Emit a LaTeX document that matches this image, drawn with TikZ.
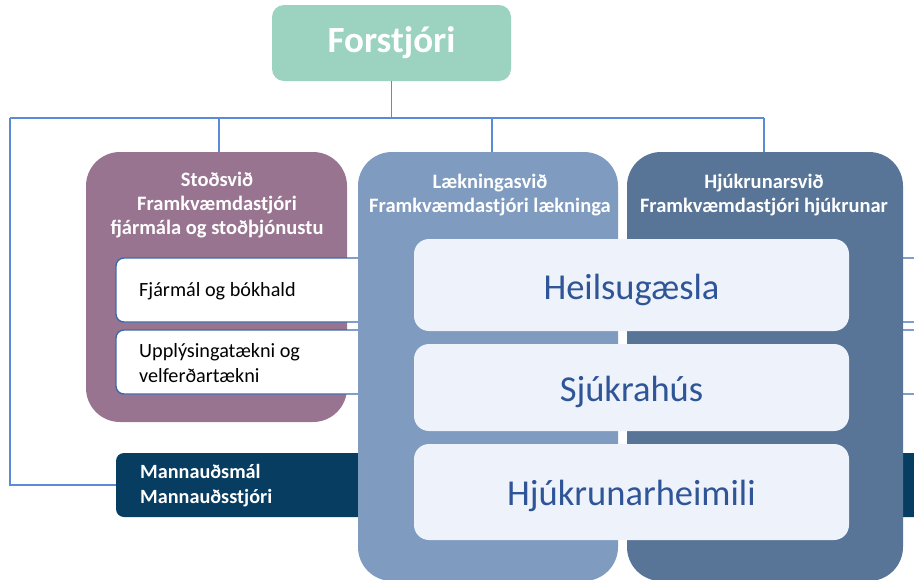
\documentclass[tikz,border=0pt]{standalone}
\usepackage{fontspec}
\setmainfont{Carlito}
\definecolor{cteal}{RGB}{155,211,192}
\definecolor{cconn}{RGB}{91,139,214}
\definecolor{cstod}{RGB}{152,116,145}
\definecolor{claek}{RGB}{127,155,191}
\definecolor{chjuk}{RGB}{88,116,151}
\definecolor{cmann}{RGB}{8,61,98}
\definecolor{clight}{RGB}{237,242,251}
\definecolor{clighttext}{RGB}{47,85,151}
\definecolor{cwbord}{RGB}{63,106,170}
\begin{document}
\begin{tikzpicture}[x=1pt,y=-1pt,
  conn/.style={draw=cconn,line width=1.4pt},
  panel/.style={inner sep=0pt,rounded corners=34pt},
  headtext/.style={text=white,align=center,inner sep=0pt,font=\fontsize{20.5}{24}\selectfont\bfseries},
  whitebox/.style={fill=white,draw=cwbord,line width=1.4pt,rounded corners=8pt,minimum width=884pt,minimum height=64pt,inner sep=0pt},
  bodytext/.style={anchor=west,align=left,inner sep=0pt,font=\fontsize{20.2}{25}\selectfont},
  lightbox/.style={fill=clight,rounded corners=15pt,minimum width=435pt,inner sep=0pt},
  lighttext/.style={inner sep=0pt,text=clighttext,font=\fontsize{36.5}{40}\selectfont}
]
\useasboundingbox (0,0) rectangle (914,579);
\clip (0,0) rectangle (914,579);

% top box
\node[fill=cteal,rounded corners=12pt,minimum width=239pt,minimum height=76pt,inner sep=0pt,text=white,font=\fontsize{37}{44}\selectfont\bfseries] (forstjori) at (391.5,43) {Forstjóri};

% Stoðsvið panel
\node[panel,fill=cstod,minimum width=261pt,minimum height=270pt] (stod) at (216.5,287) {};
\node[headtext] (stodtext) at (217,205) {Stoðsvið\\Framkvæmdastjóri\\fjármála og stoðþjónustu};

% white boxes
\node[whitebox] (fjar) at (558,290) {};
\node[bodytext] (fjartext) at (139,291) {Fjármál og bókhald};
\node[whitebox] (upp) at (558,362) {};
\node[bodytext] (upptext) at (139,363.5) {Upplýsingatækni og\\velferðartækni};

% Mannauðsmál bar
\node[fill=cmann,rounded corners=8pt,minimum width=884pt,minimum height=64pt,inner sep=0pt] (mann) at (558,485) {};
\node[bodytext,text=white,font=\fontsize{20.2}{25}\selectfont\bfseries] (manntext) at (140,485.5) {Mannauðsmál\\Mannauðsstjóri};

% Lækningasvið and Hjúkrunarsvið panels
\node[panel,fill=claek,minimum width=260pt,minimum height=429pt] (laek) at (488,366.5) {};
\node[headtext] (laektext) at (490,195) {Lækningasvið\\Framkvæmdastjóri lækninga};
\node[panel,fill=chjuk,minimum width=276pt,minimum height=429pt] (hjuk) at (765,366.5) {};
\node[headtext] (hjuktext) at (764,195) {Hjúkrunarsvið\\Framkvæmdastjóri hjúkrunar};

% light boxes
\node[lightbox,minimum height=92pt] (heil) at (631.5,285) {};
\node[lighttext] (heiltext) at (631.5,290) {Heilsugæsla};
\node[lightbox,minimum height=87pt] (sjuk) at (631.5,387.5) {};
\node[lighttext] (sjuktext) at (631.5,392) {Sjúkrahús};
\node[lightbox,minimum height=96pt] (hjheim) at (631.5,492) {};
\node[lighttext] (hjheimtext) at (631.5,496) {Hjúkrunarheimili};

% connectors
\coordinate (busL) at (10,118);
\coordinate (busM) at (391.5,118);
\coordinate (busR) at (764,118);
\draw[conn] (forstjori.south) -- (busM);
\draw[conn] (busL) -- (busR);
\draw[conn] (busL) |- (mann.west);
\draw[conn] ([xshift=2.5pt]stod.north) -- ([xshift=2.5pt]stod.north |- busL);
\draw[conn] ([xshift=4pt]laek.north) -- ([xshift=4pt]laek.north |- busL);
\draw[conn] ([xshift=-1pt]hjuk.north) -- (busR);
\end{tikzpicture}
\end{document}
